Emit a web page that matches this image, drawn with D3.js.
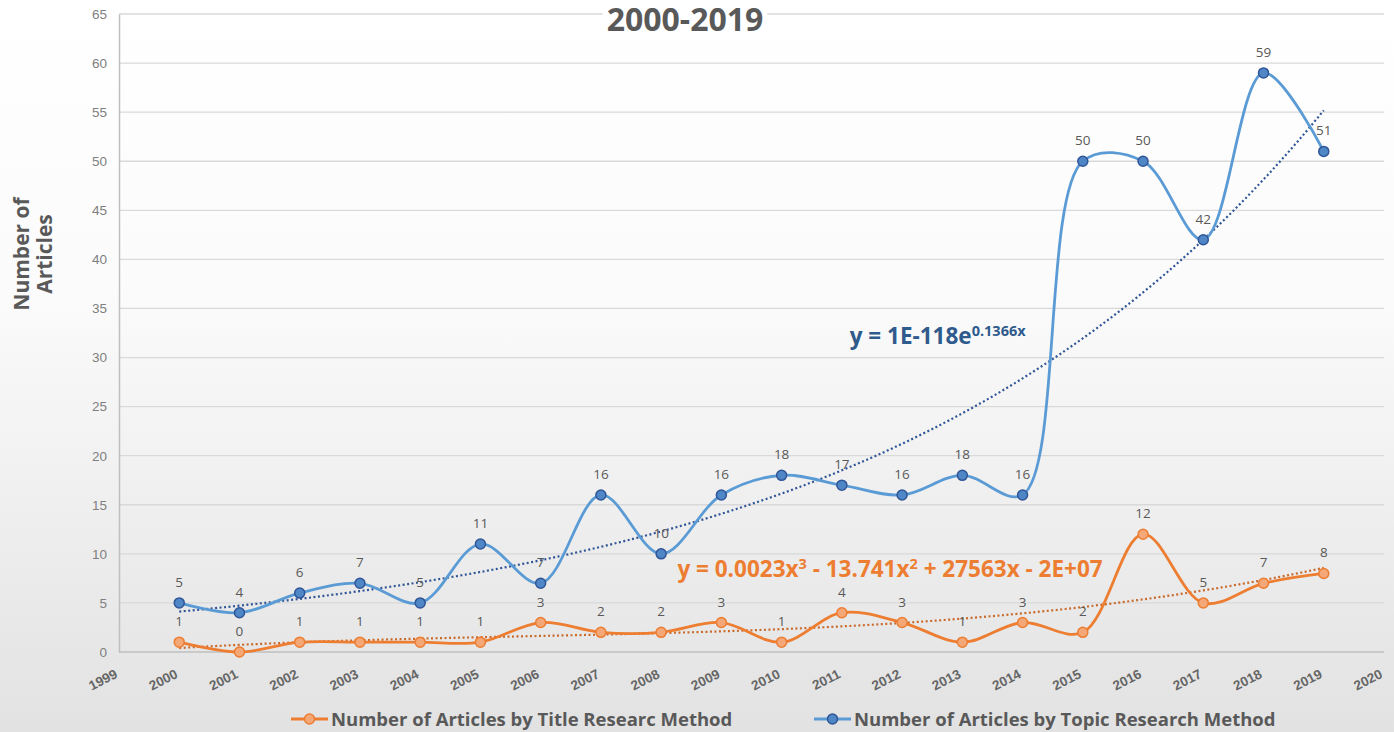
<!DOCTYPE html>
<html>
<head>
<meta charset="utf-8">
<script src="https://cdn.jsdelivr.net/npm/d3@7"></script>
<style>
  body { margin: 0; background: #fff; }
  svg { display: block; font-family: "Open Sans", sans-serif; }
</style>
</head>
<body>
<div id="chart"></div>
<script>
// data
var years = [2000, 2001, 2002, 2003, 2004, 2005, 2006, 2007, 2008, 2009,
             2010, 2011, 2012, 2013, 2014, 2015, 2016, 2017, 2018, 2019];
var titleCounts = [1, 0, 1, 1, 1, 1, 3, 2, 2, 3, 1, 4, 3, 1, 3, 2, 12, 5, 7, 8];
var topicCounts = [5, 4, 6, 7, 5, 11, 7, 16, 10, 16, 18, 17, 16, 18, 16, 50, 50, 42, 59, 51];
var xTicks = d3.range(1999, 2021);
var yTicks = d3.range(0, 66, 5);
var seriesNames = ["Number of Articles by Title Researc Method",
                   "Number of Articles by Topic Research Method"];

var W = 1394, H = 732;
var margin = {top: 14, left: 119, right: 10, bottom: 80},
    width  = 1384 - margin.left,
    height = 652 - margin.top;

var orange = "#ed7d31", blue = "#5b9bd5";

var svg = d3.select("#chart").append("svg")
    .attr("width", W).attr("height", H);

var grad = svg.append("defs").append("linearGradient")
    .attr("id", "bg").attr("x1", 0).attr("y1", 0).attr("x2", 0).attr("y2", 1);
grad.append("stop").attr("offset", "0%").attr("stop-color", "#ffffff");
grad.append("stop").attr("offset", "40%").attr("stop-color", "#fbfbfb");
grad.append("stop").attr("offset", "100%").attr("stop-color", "#e2e2e2");

svg.append("rect").attr("width", W).attr("height", H).attr("fill", "url(#bg)");

var x = d3.scaleLinear().domain([1999, 2020]).range([0, width]),
    y = d3.scaleLinear().domain([0, 65]).range([height, 0]);

var g = svg.append("g").attr("transform", "translate(" + margin.left + "," + margin.top + ")");

// gridlines
g.append("g")
  .selectAll("line")
  .data(yTicks.filter(function(d) { return d > 0; }))
  .join("line")
    .attr("x1", 0).attr("x2", width)
    .attr("y1", function(d) { return y(d); })
    .attr("y2", function(d) { return y(d); })
    .attr("stroke", "#d9d9d9").attr("stroke-width", 1.3);

// y axis
var yAxis = g.append("g").attr("class", "axis axis--y")
  .call(d3.axisLeft(y).tickValues(yTicks).tickSize(0).tickPadding(12));
yAxis.select(".domain").attr("stroke", "#bfbfbf").attr("stroke-width", 1.5);
yAxis.selectAll("text")
  .attr("fill", "#7f7f7f").style("font-size", "13.5px");

// x axis
g.append("line")
  .attr("x1", 0).attr("x2", width).attr("y1", height).attr("y2", height)
  .attr("stroke", "#bfbfbf").attr("stroke-width", 1.5);

var xAxis = g.append("g").attr("class", "axis axis--x")
  .attr("transform", "translate(0," + height + ")")
  .call(d3.axisBottom(x).tickValues(xTicks).tickFormat(d3.format("d")).tickSize(0).tickPadding(0));
xAxis.select(".domain").remove();
xAxis.selectAll("text")
  .style("text-anchor", "end")
  .style("font-size", "13.5px")
  .style("font-weight", "600")
  .attr("fill", "#666666")
  .attr("y", 0)
  .attr("dy", 0)
  .attr("transform", "translate(-1,25) rotate(-27)");

// trendlines (least squares fits, like Excel does)
function expFit(xs, ys) {
  var lx = xs.map(function(d) { return d - 2000; }), ly = ys.map(Math.log);
  var mx = d3.mean(lx), my = d3.mean(ly);
  var b = d3.sum(lx, function(d, i) { return (d - mx) * (ly[i] - my); }) /
          d3.sum(lx, function(d) { return (d - mx) * (d - mx); });
  var a = my - b * mx;
  return function(t) { return Math.exp(a + b * (t - 2000)); };
}

function cubicFit(xs, ys) {
  var n = 4, c = d3.mean(xs);
  var A = [], i, j, k;
  for (i = 0; i < n; i++) {
    A.push([]);
    for (j = 0; j < n; j++) A[i].push(d3.sum(xs, function(d) { return Math.pow(d - c, i + j); }));
    A[i].push(d3.sum(xs, function(d, m) { return Math.pow(d - c, i) * ys[m]; }));
  }
  for (i = 0; i < n; i++) {
    for (k = i + 1; k < n; k++) {
      var f = A[k][i] / A[i][i];
      for (j = i; j <= n; j++) A[k][j] -= f * A[i][j];
    }
  }
  var coef = new Array(n);
  for (i = n - 1; i >= 0; i--) {
    var s = A[i][n];
    for (j = i + 1; j < n; j++) s -= A[i][j] * coef[j];
    coef[i] = s / A[i][i];
  }
  return function(t) {
    var u = t - c;
    return coef[0] + coef[1] * u + coef[2] * u * u + coef[3] * u * u * u;
  };
}

var topicTrend = expFit(years, topicCounts),
    titleTrend = cubicFit(years, titleCounts);

var trendX = d3.range(2000, 2019.001, 0.1);

var trendLine = function(fn) {
  return d3.line()
    .x(function(d) { return x(d); })
    .y(function(d) { return y(fn(d)); })(trendX);
};

g.append("path")
  .attr("d", trendLine(topicTrend))
  .attr("fill", "none").attr("stroke", "#2f5597").attr("stroke-width", 2.2)
  .attr("stroke-dasharray", "2,2.5");

g.append("path")
  .attr("d", trendLine(titleTrend))
  .attr("fill", "none").attr("stroke", "#c9692a").attr("stroke-width", 2.2)
  .attr("stroke-dasharray", "2,2.5");

// series
var line = d3.line()
  .curve(d3.curveCatmullRom.alpha(0.5))
  .x(function(d, i) { return x(years[i]); })
  .y(function(d) { return y(d); });

function drawSeries(values, color, fill, stroke) {
  g.append("path")
    .datum(values)
    .attr("fill", "none").attr("stroke", color).attr("stroke-width", 2.8)
    .attr("d", line);
  g.append("g").selectAll("circle")
    .data(values)
    .join("circle")
      .attr("cx", function(d, i) { return x(years[i]); })
      .attr("cy", function(d) { return y(d); })
      .attr("r", 5)
      .attr("fill", fill).attr("stroke", stroke).attr("stroke-width", 1.5);
  g.append("g").selectAll("text")
    .data(values)
    .join("text")
      .attr("x", function(d, i) { return x(years[i]); })
      .attr("y", function(d) { return y(d) - 16; })
      .attr("text-anchor", "middle")
      .attr("fill", "#595959")
      .style("font-size", "13.5px")
      .text(function(d) { return d; });
}

drawSeries(titleCounts, orange, "#f4a777", "#ed7d31");
drawSeries(topicCounts, blue, "#4f86c6", "#2f5597");

// trendline equations
var eq1 = g.append("text")
  .attr("x", x(2011.13)).attr("y", y(31.4))
  .attr("fill", "#2f5a8c").style("font-size", "22.5px").style("font-weight", "700");
eq1.append("tspan").text("y = 1E-118e");
eq1.append("tspan").attr("dy", "-8").style("font-size", "14.5px").text("0.1366x");

var eq2 = g.append("text")
  .attr("x", x(2008.27)).attr("y", y(7.6))
  .attr("fill", orange).style("font-size", "22.5px").style("font-weight", "700");
eq2.append("tspan").text("y = 0.0023x");
eq2.append("tspan").attr("dy", "-8").style("font-size", "14.5px").text("3");
eq2.append("tspan").attr("dy", "8").text(" - 13.741x");
eq2.append("tspan").attr("dy", "-8").style("font-size", "14.5px").text("2");
eq2.append("tspan").attr("dy", "8").text(" + 27563x - 2E+07");

// title, on a white box over the top gridline
var titleBox = svg.append("rect").attr("fill", "#fff");
var title = svg.append("text")
  .attr("x", 685).attr("y", 31)
  .attr("text-anchor", "middle")
  .attr("fill", "#595959")
  .style("font-size", "32px").style("font-weight", "700")
  .text("2000-2019");
var tb = title.node().getBBox();
titleBox.attr("x", tb.x - 4).attr("y", 0).attr("width", tb.width + 8).attr("height", 40);

// y axis label
svg.append("text")
  .attr("transform", "translate(29,254) rotate(-90)")
  .attr("text-anchor", "middle")
  .attr("fill", "#595959")
  .style("font-size", "21px").style("font-weight", "700")
  .selectAll("tspan")
  .data(["Number of", "Articles"])
  .join("tspan")
    .attr("x", 0)
    .attr("dy", function(d, i) { return i ? "1.1em" : 0; })
    .text(function(d) { return d; });

// legend
var legend = svg.append("g").attr("transform", "translate(0,719)");
var legendItems = [
  {name: seriesNames[0], x: 291, color: orange, fill: "#f4a777", stroke: "#ed7d31"},
  {name: seriesNames[1], x: 814, color: blue, fill: "#4f86c6", stroke: "#2f5597"}
];
legendItems.forEach(function(d) {
  legend.append("line")
    .attr("x1", d.x).attr("x2", d.x + 37).attr("y1", 0).attr("y2", 0)
    .attr("stroke", d.color).attr("stroke-width", 2.8);
  legend.append("circle")
    .attr("cx", d.x + 18.5).attr("cy", 0).attr("r", 5)
    .attr("fill", d.fill).attr("stroke", d.stroke).attr("stroke-width", 1.5);
  legend.append("text")
    .attr("x", d.x + 40).attr("y", 7)
    .attr("fill", "#595959")
    .style("font-size", "18.5px").style("font-weight", "700")
    .text(d.name);
});
</script>
</body>
</html>
